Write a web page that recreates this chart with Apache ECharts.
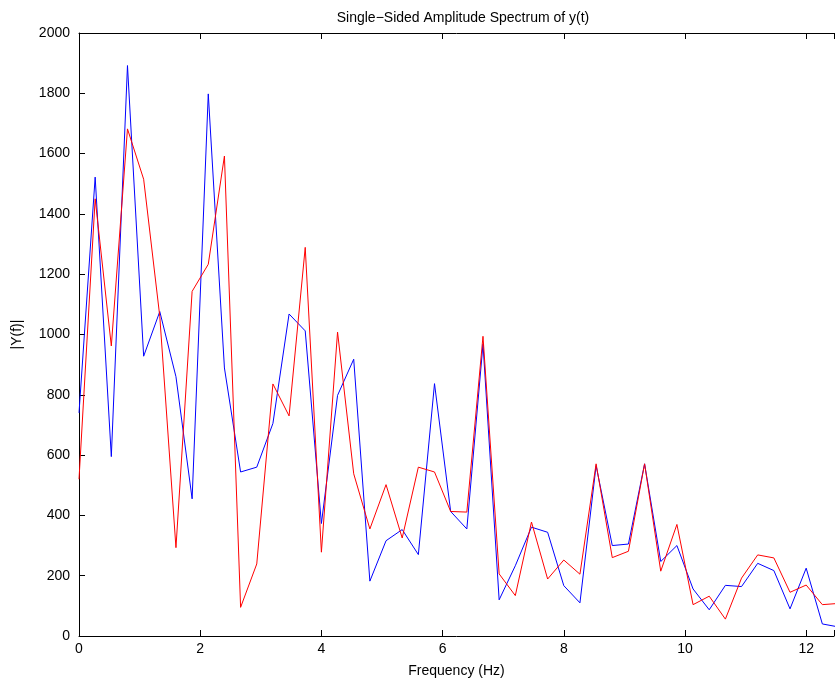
<!DOCTYPE html>
<html>
<head>
<meta charset="utf-8">
<script src="https://cdn.jsdelivr.net/npm/echarts@6/dist/echarts.min.js"></script>
<style>
  html, body { margin: 0; padding: 0; background: #fff; }
  #chart { width: 837px; height: 683px; }
</style>
</head>
<body>
<div id="chart"></div>
<script>
// Frequency bins (Hz)
var freq = [0, 0.2667, 0.5333, 0.8, 1.0667, 1.3333, 1.6, 1.8667, 2.1333, 2.4,
  2.6667, 2.9333, 3.2, 3.4667, 3.7333, 4.0, 4.2667, 4.5333, 4.8, 5.0667,
  5.3333, 5.6, 5.8667, 6.1333, 6.4, 6.6667, 6.9333, 7.2, 7.4667, 7.7333,
  8.0, 8.2667, 8.5333, 8.8, 9.0667, 9.3333, 9.6, 9.8667, 10.1333, 10.4,
  10.6667, 10.9333, 11.2, 11.4667, 11.7333, 12.0, 12.2667, 12.5333];

// |Y(f)| blue trace
var blueAmp = [740, 1522, 595, 1892, 928, 1076, 860, 455, 1798, 889,
  544, 560, 705, 1068, 1012, 373, 798, 918, 182, 316,
  353, 270, 837, 413, 355, 968, 120, 233, 361, 344,
  167, 110, 565, 300, 305, 571, 247, 300, 156, 87,
  168, 164, 241, 217, 90, 225, 40, 30];

// |Y(f)| red trace
var redAmp = [520, 1450, 962, 1682, 1515, 1060, 293, 1143, 1233, 1592,
  95, 239, 836, 730, 1289, 278, 1008, 538, 355, 502,
  325, 560, 544, 413, 411, 994, 206, 134, 378, 189,
  252, 205, 571, 260, 281, 571, 215, 370, 104, 132,
  56, 192, 269, 259, 145, 169, 104, 108];

var xTickLabels = ['0', '2', '4', '6', '8', '10', '12'];
var yTickLabels = ['0', '200', '400', '600', '800', '1000', '1200', '1400', '1600', '1800', '2000'];

function pairs(xs, ys) {
  return xs.map(function (x, i) { return [x, ys[i]]; });
}

var FONT = 'Liberation Sans, Helvetica, Arial, sans-serif';
var chart = echarts.init(document.getElementById('chart'), null, { renderer: 'canvas' });

var axisLineStyle = { show: true, lineStyle: { color: '#000', width: 1 } };
var tickStyle = { show: true, inside: true, length: 6, lineStyle: { color: '#000', width: 1 } };

chart.setOption({
  animation: false,
  backgroundColor: '#fff',
  title: {
    text: 'Single\u2212Sided Amplitude Spectrum of y(t)',
    left: 458, top: 6, textAlign: 'center',
    textStyle: { fontFamily: FONT, fontSize: 14, fontWeight: 'normal', color: '#000' }
  },
  grid: { left: 79, right: -2, top: 33, bottom: 46, containLabel: false },
  xAxis: [{
    type: 'value', min: 0, max: 12.459, interval: 2,
    position: 'bottom',
    axisLine: axisLineStyle, axisTick: tickStyle,
    splitLine: { show: false },
    axisLabel: {
      color: '#000', fontFamily: FONT, fontSize: 14, margin: 6,
      formatter: function (v) { var k = Math.round(v / 2); return (Math.abs(v - k * 2) < 1e-6) ? xTickLabels[k] : ''; }
    },
    name: 'Frequency (Hz)', nameLocation: 'middle', nameGap: 28,
    nameTextStyle: { color: '#000', fontFamily: FONT, fontSize: 14 }
  }, {
    type: 'value', min: 0, max: 12.459, interval: 2,
    position: 'top',
    axisLine: axisLineStyle, axisTick: tickStyle,
    splitLine: { show: false }, axisLabel: { show: false }
  }],
  yAxis: [{
    type: 'value', min: 0, max: 2000, interval: 200,
    axisLine: axisLineStyle, axisTick: tickStyle,
    splitLine: { show: false },
    axisLabel: {
      color: '#000', fontFamily: FONT, fontSize: 14, margin: 9,
      formatter: function (v) { return yTickLabels[Math.round(v / 200)]; }
    },
    name: '|Y(f)|', nameLocation: 'middle', nameGap: 55, nameRotate: 90,
    nameTextStyle: { color: '#000', fontFamily: FONT, fontSize: 14 }
  }],
  series: [{
    type: 'line', name: 'blue', data: pairs(freq, blueAmp),
    xAxisIndex: 0, yAxisIndex: 0,
    showSymbol: false, symbol: 'none', clip: true,
    lineStyle: { color: '#0000ff', width: 1 }, itemStyle: { color: '#0000ff' }
  }, {
    type: 'line', name: 'red', data: pairs(freq, redAmp),
    xAxisIndex: 0, yAxisIndex: 0,
    showSymbol: false, symbol: 'none', clip: true,
    lineStyle: { color: '#ff0000', width: 1 }, itemStyle: { color: '#ff0000' }
  }]
});
</script>
</body>
</html>
